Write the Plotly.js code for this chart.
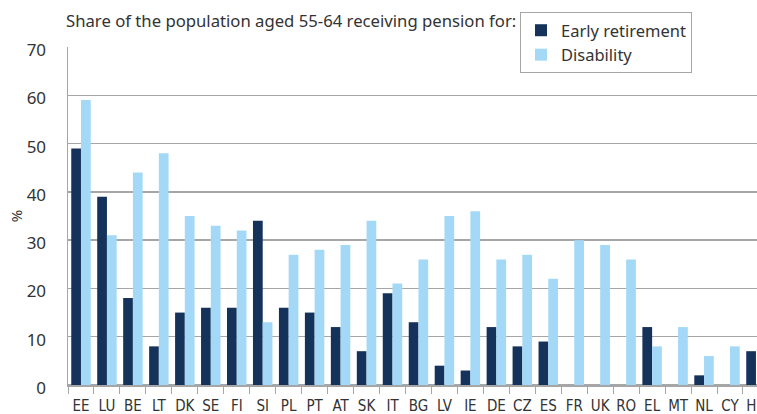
<!DOCTYPE html>
<html>
<head>
<meta charset="utf-8">
<script src="https://cdn.plot.ly/plotly-3.0.1.min.js"></script>
<style>html,body{margin:0;padding:0;overflow:hidden;background:#fff;}#chart{width:757px;height:414px;}</style>
</head>
<body>
<div id="chart"></div>
<script>
var countries = ["EE","LU","BE","LT","DK","SE","FI","SI","PL","PT","AT","SK","IT","BG","LV","IE","DE","CZ","ES","FR","UK","RO","EL","MT","NL","CY","HR"];
var earlyRetirement = [49,39,18,8,15,16,16,34,16,15,12,7,19,13,4,3,12,8,9,0,0,0,12,0,2,0,7];
var disability = [59,31,44,48,35,33,32,13,27,28,29,34,21,26,35,36,26,27,22,30,29,26,8,12,6,8,null];
var yTicks = [0,10,20,30,40,50,60,70];

var textColor = "#333333";
var gridColor = "#a6a6a6";
var fontFam = "Noto Sans, DejaVu Sans, sans-serif";

var traces = [
  {type:"bar", name:"Early retirement", x:countries, y:earlyRetirement, marker:{color:"#14325a"}, hoverinfo:"x+y+name"},
  {type:"bar", name:"Disability", x:countries, y:disability, marker:{color:"#a3d9f7"}, hoverinfo:"x+y+name"}
];

var layout = {
  width:757, height:414,
  margin:{l:68, r:0, t:47, b:29, pad:0},
  paper_bgcolor:"#ffffff", plot_bgcolor:"#ffffff",
  font:{family:fontFam, color:textColor, size:14},
  title:{text:"Share of the population aged 55-64 receiving pension for:", font:{family:fontFam, size:16.7, color:textColor},
         xref:"container", x:66/757, xanchor:"left", yref:"container", y:1-21/414, yanchor:"middle"},
  barmode:"group", bargap:0.25, bargroupgap:0,
  showlegend:true,
  legend:{x:(520-68)/689, xanchor:"left", y:(385-12)/338, yanchor:"top", bgcolor:"#ffffff", bordercolor:gridColor, borderwidth:1,
          font:{family:fontFam, size:16.5, color:textColor}, tracegroupgap:0},
  xaxis:{type:"category", range:[-0.5, 26.04], tickson:"boundaries", ticks:"outside", ticklen:7, tickwidth:1, tickcolor:gridColor,
         showline:true, linecolor:gridColor, linewidth:1.5, showgrid:false, tickangle:0, ticklabelstandoff:6,
         tickfont:{family:"Liberation Sans Narrow, DejaVu Sans Condensed, sans-serif", size:15, color:textColor}, fixedrange:true},
  yaxis:{range:[0,70], tickvals:yTicks, ticks:"", showline:true, linecolor:gridColor, linewidth:1.5,
         showgrid:true, gridcolor:gridColor, gridwidth:1.5, zeroline:true, zerolinecolor:gridColor, zerolinewidth:1.5,
         ticklabelstandoff:17, ticklabelshift:3,
         tickfont:{family:fontFam, size:17, color:textColor},
         title:{text:"%", font:{family:fontFam, size:15, color:textColor}, standoff:0}, fixedrange:true}
};

Plotly.newPlot("chart", traces, layout, {displayModeBar:false, staticPlot:true});
</script>
</body>
</html>
